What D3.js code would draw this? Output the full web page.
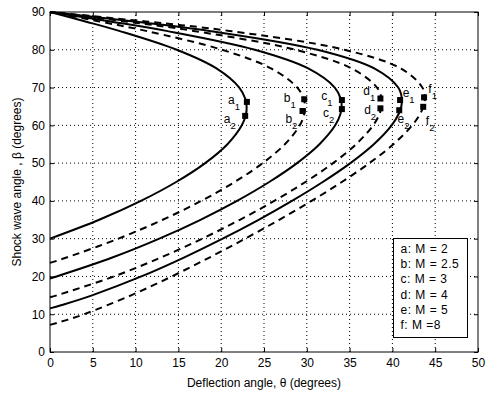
<!DOCTYPE html>
<html>
<head>
<meta charset="utf-8">
<script src="https://cdn.jsdelivr.net/npm/d3@7"></script>
<style>
  html, body { margin: 0; padding: 0; background: #fff; }
  svg { display: block; font-family: "Liberation Sans", Arial, Helvetica, sans-serif; }
</style>
</head>
<body>
<svg id="chart" width="490" height="395"></svg>
<script>
// ---------- data ----------
const curveLetters = ["a", "b", "c", "d", "e", "f"];
const machNumbers = [2, 2.5, 3, 4, 5, 8];
const legendTexts = ["a: M = 2", "b: M = 2.5", "c: M = 3", "d: M = 4", "e: M = 5", "f: M =8"];

const betaA  = [30, 35, 40, 45, 50, 55, 60, 63, 65, 67, 70, 75, 80, 85, 87.5, 90];
const thetaA = [0, 5.75, 10.62, 14.74, 18.13, 20.73, 22.41, 22.90, 22.97, 22.82, 22.11, 19.49, 14.81, 8.08, 4.13, 0];

const betaB  = [23.58, 25, 30, 35, 40, 45, 50, 55, 60, 63, 65, 67, 70, 75, 80, 85, 87.5, 90];
const thetaB = [0, 1.93, 7.99, 13.17, 17.67, 21.57, 24.85, 27.44, 29.18, 29.70, 29.79, 29.64, 28.89, 25.88, 20.10, 11.21, 5.77, 0];

const betaC  = [19.47, 20, 25, 30, 35, 40, 45, 50, 55, 60, 63, 65, 67, 70, 75, 80, 85, 87.5, 90];
const thetaC = [0, 0.77, 7.28, 12.77, 17.58, 21.85, 25.61, 28.86, 31.48, 33.32, 33.93, 34.07, 33.97, 33.27, 30.22, 23.93, 13.60, 7.05, 0];

const betaD  = [14.48, 15, 20, 25, 30, 35, 40, 45, 50, 55, 60, 63, 65, 67, 70, 75, 80, 85, 87.5, 90];
const thetaD = [0, 0.80, 7.45, 12.94, 17.78, 22.18, 26.20, 29.84, 33.07, 35.76, 37.75, 38.49, 38.74, 38.74, 38.20, 35.29, 28.66, 16.76, 8.78, 0];

const betaE  = [11.54, 12.5, 15, 20, 25, 30, 35, 40, 45, 50, 55, 60, 63, 65, 67, 70, 75, 80, 85, 87.5, 90];
const thetaE = [0, 1.48, 4.91, 10.67, 15.64, 20.17, 24.37, 28.27, 31.86, 35.09, 37.83, 39.91, 40.73, 41.04, 41.11, 40.68, 37.93, 31.25, 18.60, 9.81, 0];

const betaF  = [7.18, 8.5, 10, 15, 20, 25, 30, 35, 40, 45, 50, 55, 60, 63, 65, 67, 70, 75, 80, 85, 87.5, 90];
const thetaF = [0, 2.00, 3.98, 9.47, 14.22, 18.62, 22.80, 26.78, 30.56, 34.09, 37.31, 40.12, 42.32, 43.23, 43.62, 43.79, 43.50, 41.02, 34.39, 20.95, 11.16, 0];

// marker points (upper "1" and lower "2" per curve)
const markerTheta1 = [23.0, 29.7, 34.1, 38.6, 40.9, 43.7];
const markerBeta1  = [66.2, 66.9, 66.7, 67.1, 66.7, 67.4];
const markerTheta2 = [22.8, 29.5, 34.1, 38.6, 40.8, 43.6];
const markerBeta2  = [62.5, 63.8, 64.3, 64.5, 64.0, 64.9];

// annotation anchors (text start, baseline) in data units
const labelTheta1 = [20.8, 27.3, 31.7, 36.6, 41.2, 44.2];
const labelBeta1  = [65.6, 66.2, 66.7, 68.0, 67.6, 68.6];
const labelTheta2 = [20.3, 27.5, 31.9, 36.7, 40.6, 43.9];
const labelBeta2  = [60.6, 60.6, 62.2, 63.0, 60.5, 60.1];

const xTicks = [0, 5, 10, 15, 20, 25, 30, 35, 40, 45, 50];
const yTicks = [0, 10, 20, 30, 40, 50, 60, 70, 80, 90];

const xLabel = "Deflection angle, \u03b8 (degrees)";
const yLabel = "Shock wave angle , \u03b2 (degrees)";

// ---------- drawing ----------
const svg = d3.select("#chart");
const L = 50, R = 478, T = 12, B = 352;
const x = d3.scaleLinear().domain([0, 50]).range([L, R]);
const y = d3.scaleLinear().domain([0, 90]).range([B, T]);

svg.append("rect").attr("width", 490).attr("height", 395).attr("fill", "#fff");

// grid
const grid = svg.append("g").attr("stroke", "#000").attr("stroke-width", 1)
  .attr("stroke-dasharray", "1,3");
xTicks.filter(v => v > 0 && v < 50).forEach(v => {
  grid.append("line").attr("x1", x(v)).attr("x2", x(v)).attr("y1", B).attr("y2", T);
});
yTicks.filter(v => v > 0 && v < 90).forEach(v => {
  grid.append("line").attr("x1", L).attr("x2", R).attr("y1", y(v)).attr("y2", y(v));
});

// curves
const betas = [betaA, betaB, betaC, betaD, betaE, betaF];
const thetas = [thetaA, thetaB, thetaC, thetaD, thetaE, thetaF];
const line = d3.line().x(d => x(d[0])).y(d => y(d[1])).curve(d3.curveCatmullRom.alpha(0.5));
betas.forEach((bs, i) => {
  const pts = bs.map((b, k) => [thetas[i][k], b]);
  svg.append("path").datum(pts)
    .attr("d", line)
    .attr("fill", "none")
    .attr("stroke", "#000")
    .attr("stroke-width", 2)
    .attr("stroke-dasharray", i % 2 === 1 ? "7,5" : null);
});

// markers
const ms = 6;
[[markerTheta1, markerBeta1], [markerTheta2, markerBeta2]].forEach(([mt, mb]) => {
  mt.forEach((t, i) => {
    svg.append("rect")
      .attr("x", x(t) - ms / 2).attr("y", y(mb[i]) - ms / 2)
      .attr("width", ms).attr("height", ms).attr("fill", "#000");
  });
});

// annotations
function annot(t, b, letter, sub) {
  const tx = svg.append("text").attr("x", x(t)).attr("y", y(b))
    .attr("font-size", 12).attr("fill", "#000").text(letter);
  tx.append("tspan").attr("dy", 6).attr("font-size", 9.5).text(sub);
}
curveLetters.forEach((c, i) => {
  annot(labelTheta1[i], labelBeta1[i], c, "1");
  annot(labelTheta2[i], labelBeta2[i], c, "2");
});

// axes (inward ticks on all four sides)
const fs = 12;
const ax = svg.append("g").attr("transform", `translate(0,${B})`)
  .call(d3.axisBottom(x).tickValues(xTicks).tickSizeInner(-4).tickSizeOuter(0).tickPadding(6).tickFormat(d3.format("d")));
const ay = svg.append("g").attr("transform", `translate(${L},0)`)
  .call(d3.axisLeft(y).tickValues(yTicks).tickSizeInner(-4).tickSizeOuter(0).tickPadding(5).tickFormat(d3.format("d")));
const at = svg.append("g").attr("transform", `translate(0,${T})`)
  .call(d3.axisTop(x).tickValues(xTicks).tickSizeInner(-4).tickSizeOuter(0).tickFormat(""));
const ar = svg.append("g").attr("transform", `translate(${R},0)`)
  .call(d3.axisRight(y).tickValues(yTicks).tickSizeInner(-4).tickSizeOuter(0).tickFormat(""));
[ax, ay, at, ar].forEach(g => {
  g.select(".domain").remove();
  g.selectAll("line").attr("stroke", "#000");
  g.selectAll("text").attr("font-size", fs).attr("fill", "#000")
    .attr("font-family", "'Liberation Sans', Arial, Helvetica, sans-serif");
});

// box
svg.append("rect").attr("x", L).attr("y", T).attr("width", R - L).attr("height", B - T)
  .attr("fill", "none").attr("stroke", "#000").attr("stroke-width", 1);

// axis labels
svg.append("text").attr("x", (L + R) / 2).attr("y", 387).attr("text-anchor", "middle")
  .attr("font-size", fs).attr("fill", "#000").text(xLabel);
svg.append("text").attr("transform", `translate(21,${(T + B) / 2}) rotate(-90)`)
  .attr("text-anchor", "middle").attr("font-size", fs).attr("fill", "#000").text(yLabel);

// legend
const lg = svg.append("g");
lg.append("rect").attr("x", 393.5).attr("y", 238.5).attr("width", 74).attr("height", 99)
  .attr("fill", "#fff").attr("stroke", "#000").attr("stroke-width", 1);
legendTexts.forEach((s, i) => {
  lg.append("text").attr("x", 400.5).attr("y", 252.7 + 15.3 * i)
    .attr("font-size", 12).attr("letter-spacing", 0.5).attr("fill", "#000").text(s);
});
</script>
</body>
</html>
